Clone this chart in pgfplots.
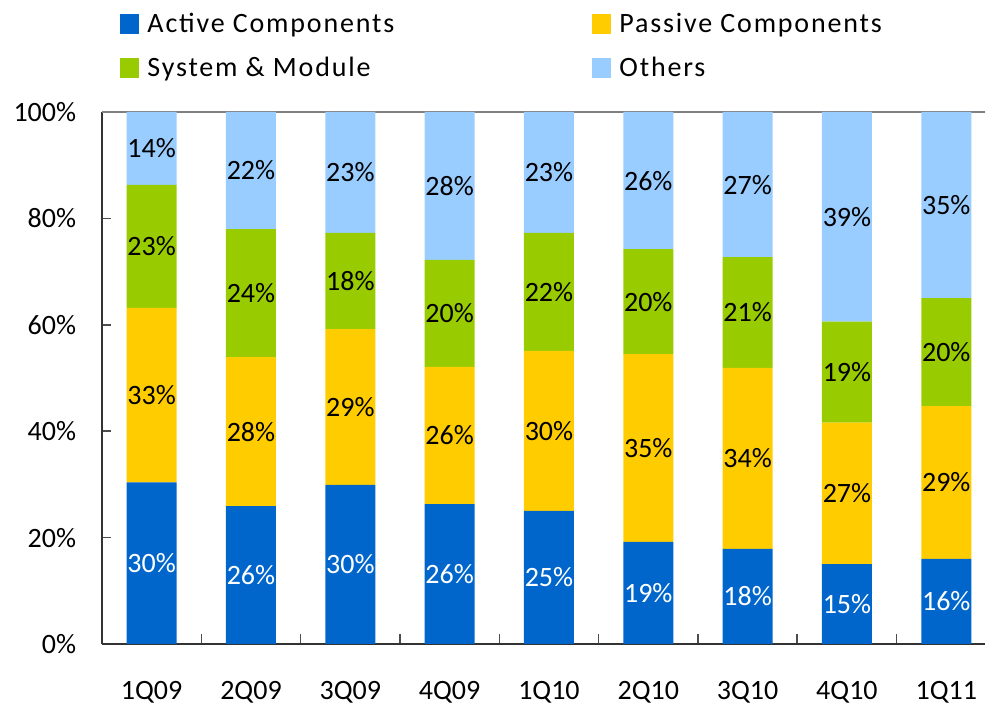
\documentclass[border=0pt]{standalone}
\usepackage{pgfplots}
\usepackage{pgfplotstable}
\pgfplotsset{compat=1.18}
\usepackage{fontspec}
\setmainfont{Carlito}
\newfontfamily\legfont[LetterSpace=6.5]{Carlito}
\definecolor{cA}{HTML}{0066CC}
\definecolor{cP}{HTML}{FFCC00}
\definecolor{cS}{HTML}{99CC00}
\definecolor{cO}{HTML}{99CCFF}
\newcommand\fs{\fontsize{14}{16.5}\selectfont}
\pgfplotstableread{
x a p s o
0 30.4 32.8 23.1 13.7
1 25.9 28.0 24.1 22.0
2 29.9 29.3 18.1 22.7
3 26.3 25.8 20.1 27.8
4 25.0 30.1 22.2 22.7
5 19.2 35.3 19.7 25.8
6 17.9 34.0 20.8 27.3
7 15.0 26.6 19.0 39.4
8 16.0 28.7 20.3 35.0
}\data
\newlength\lw
\newlength\csep
\begin{document}%
\settowidth\lw{\legfont\fs Active Components}%
\setlength\csep{\dimexpr222.25pt-\lw\relax}%
\begin{tikzpicture}
\begin{axis}[
  scale only axis, width=441.5pt, height=266pt,
  ybar stacked, bar width=25pt,
  xmin=-0.5, xmax=8.39, ymin=0, ymax=100,
  axis x line*=bottom, axis y line*=left,
  axis line style={black!80, line width=0.8pt},
  tick align=inside, major tick length=4.75pt,
  tick style={black!70, line width=0.8pt},
  ytick={0,20,...,100},
  yticklabel={\pgfmathprintnumber[assume math mode=true]{\tick}\%},
  yticklabel style={font=\fs, inner sep=0pt, anchor=east, xshift=-12.75pt},
  extra y ticks={100}, extra y tick labels={},
  extra y tick style={grid=major, major grid style={black!50, line width=1pt}, tick style={draw=none}},
  xtick={0.5,1.5,...,7.5}, xticklabels={},
  extra x ticks={0,1,...,8},
  extra x tick labels={1Q09,2Q09,3Q09,4Q09,1Q10,2Q10,3Q10,4Q10,1Q11},
  extra x tick style={tick style={draw=none}, xticklabel style={font=\fs, inner sep=0pt, anchor=north, yshift=-18.5pt}},
  nodes near coords={\pgfmathprintnumber[fixed,precision=0,assume math mode=true]{\pgfplotspointmeta}\%},
  every node near coord/.append style={font=\fs, anchor=center, inner sep=0pt},
  legend columns=2, legend cell align=left,
  legend image code/.code={\path[#1, draw=none] (0pt,-4.875pt) rectangle (9.75pt,4.875pt);},
  legend style={at={(rel axis cs:0,1)}, anchor=north west, xshift=9pt, yshift=49.5pt,
    draw=none, fill=none, inner sep=0pt, outer sep=0pt, row sep=10.75pt,
    font=\legfont\fs, nodes={inner sep=0pt},
    /tikz/every odd column/.append style={column sep=4pt},
    /tikz/every even column/.append style={column sep=\csep}},
]
\addplot[fill=cA, draw=none, every node near coord/.append style={white}] table[x=x,y=a]{\data};
\addlegendentry{Active Components}
\addplot[fill=cP, draw=none] table[x=x,y=p]{\data};
\addlegendentry{Passive Components}
\addplot[fill=cS, draw=none] table[x=x,y=s]{\data};
\addlegendentry{System \& Module}
\addplot[fill=cO, draw=none] table[x=x,y=o]{\data};
\addlegendentry{Others}
\end{axis}
\pgfresetboundingbox
\path[use as bounding box] (-51pt,-30.5pt) rectangle (441.5pt,322pt);
\end{tikzpicture}%
\end{document}
